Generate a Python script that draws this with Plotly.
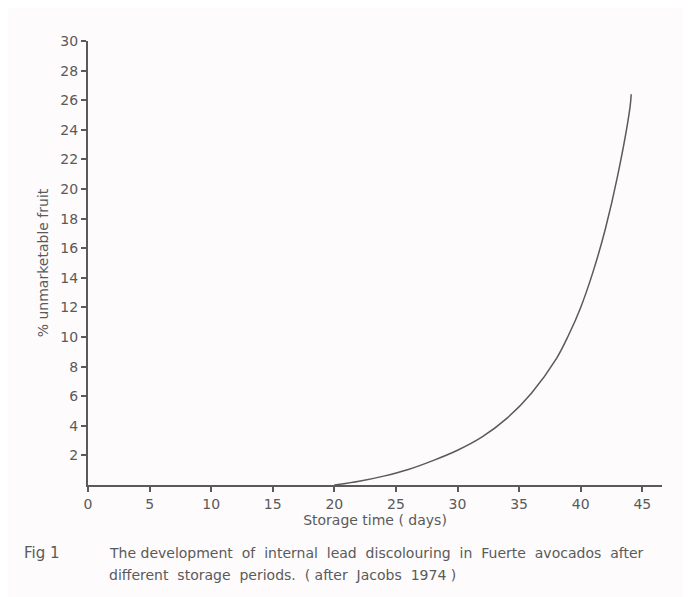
import plotly.graph_objects as go

# storage time (days) and % unmarketable fruit
days = [20, 22, 24, 26, 28, 30, 32, 34, 36, 38, 39, 40, 41, 42, 43, 44, 44.1]
unmarketable = [0, 0.25, 0.6, 1.05, 1.65, 2.35, 3.25, 4.5, 6.2, 8.5, 10.1, 12.0, 14.4, 17.3, 20.9, 25.5, 26.4]

x_ticks = [0, 5, 10, 15, 20, 25, 30, 35, 40, 45]
y_ticks = [2, 4, 6, 8, 10, 12, 14, 16, 18, 20, 22, 24, 26, 28, 30]

ink = '#5a5a5a'
fam = 'DejaVu Sans'
fnt = dict(family=fam, size=14, color=ink)

fig = go.Figure()
fig.add_trace(go.Scatter(x=days, y=unmarketable, mode='lines',
                         line=dict(color=ink, width=1.5, shape='spline', smoothing=1.0),
                         showlegend=False, hoverinfo='skip'))

fig.update_xaxes(range=[0, 46.6], tickvals=x_ticks, ticks='outside', ticklen=5, tickwidth=1.5,
                 tickcolor=ink, showline=True, linecolor=ink, linewidth=2, showgrid=False,
                 zeroline=False, tickfont=dict(family=fam, size=14, color=ink),
                 title=dict(text='Storage time ( days)', font=fnt, standoff=4))
fig.update_yaxes(range=[0, 30], tickvals=y_ticks, ticks='outside', ticklen=5, tickwidth=1.5,
                 tickcolor=ink, showline=True, linecolor=ink, linewidth=2, showgrid=False,
                 zeroline=False, tickfont=dict(family=fam, size=14, color=ink),
                 title=dict(text='% unmarketable fruit', font=fnt, standoff=8))

# the page puts the figure 8px in from the top left corner
off = 8
fig.add_annotation(text='Fig 1', x=22 - off, y=553 - off, showarrow=False,
                   font=dict(family=fam, size=15, color=ink), xanchor='left', yanchor='middle')
fig.add_annotation(text='The development  of  internal  lead  discolouring  in  Fuerte  avocados  after',
                   x=107 - off, y=553 - off, showarrow=False, font=fnt, xanchor='left', yanchor='middle')
fig.add_annotation(text='different  storage  periods.  ( after  Jacobs  1974 )',
                   x=107 - off, y=575 - off, showarrow=False, font=fnt, xanchor='left', yanchor='middle')

W, H = 691 - off, 597 - off
ml, mr, mt, mb = 88 - off, W - (662 - off), 41 - off, H - (485 - off)
# caption positions given in pixels -> convert to paper coords
for a in fig.layout.annotations:
    px_x, px_y = a.x, a.y
    a.xref = 'paper'
    a.yref = 'paper'
    a.x = (px_x - ml) / (W - ml - mr)
    a.y = 1 - (px_y - mt) / (H - mt - mb)

fig.update_layout(width=W, height=H, margin=dict(l=ml, r=mr, t=mt, b=mb),
                  paper_bgcolor='#fdfbfc', plot_bgcolor='#fdfbfc', font=fnt)

fig.write_html("out.html")
